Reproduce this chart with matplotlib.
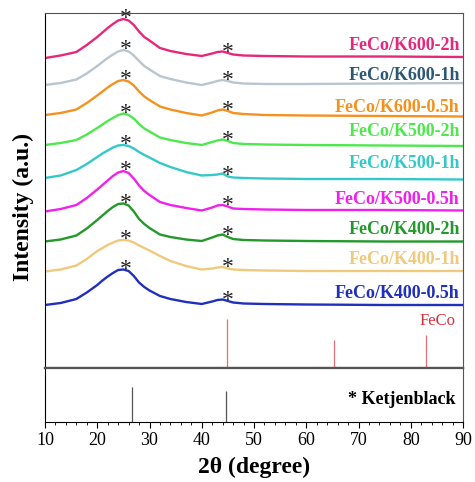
#!/usr/bin/env python
# -*- coding: utf-8 -*-

import matplotlib
matplotlib.use("Agg")
import matplotlib.pyplot as plt
import numpy as np

plt.rcParams.update({
    'font.family': 'serif',
    'font.serif': ['Liberation Serif', 'DejaVu Serif'],
})

# 2theta sampling of the patterns (degree)
theta = [10, 13, 16, 18, 20, 21, 22, 23, 24, 25, 26, 27, 28, 29, 30, 32, 34,
         37, 40, 42, 43, 44, 45, 46, 48, 52, 60, 75, 90]

# stacked intensities (a.u.), already offset
k600_2h = [322, 324.5, 328, 335, 343, 347.5, 352, 356, 359.5, 361, 359.5, 355,
           348.5, 343, 339.5, 332, 329, 326, 324, 326.5, 328, 328.5, 327, 325.5,
           324.5, 324, 323.5, 323.5, 323]
k600_1h = [295, 297, 300.5, 306.5, 314, 318, 322, 325.5, 328.5, 330, 328.5, 324.5,
           319, 314, 310.5, 304, 301, 297.5, 295, 297.5, 299, 300, 299, 297.5,
           296.5, 296, 296, 296.5, 297]
k600_05h = [265, 267, 270.5, 277, 284.5, 288.5, 292.5, 296, 299, 300, 298.5, 294.5,
            288.5, 283.5, 280, 273.5, 270.5, 267, 264.5, 267.5, 269.5, 270.5, 269,
            267, 266, 265, 264.5, 264, 263.5]
k500_2h = [235, 237, 240, 245.5, 252, 255.5, 259, 262, 265, 266.5, 265, 261.5,
           256, 251.5, 248.5, 242.5, 240, 237, 235, 238, 239.5, 240.5, 239, 237,
           236, 235.5, 235, 234.5, 234]
k500_1h = [202, 204.5, 210, 216, 223, 226.5, 229.5, 232.5, 234.5, 235, 234, 231.5,
           228, 225, 222.5, 217, 213, 208, 204.5, 205, 205.5, 206.5, 203.5, 202.5,
           202, 201.5, 201, 201, 200.5]
k500_05h = [168.5, 171, 175, 182, 190.5, 195, 199.5, 204, 207.5, 209, 207, 201.5,
            194.5, 189, 185, 178, 175, 172, 169.5, 172.5, 174.5, 175, 173.5, 171.5,
            171, 170.5, 170, 170, 169.5]
k400_2h = [138.5, 140.5, 144.5, 151.5, 160, 164.5, 169, 173, 176, 176.5, 174.5, 168.5,
           161, 156, 152, 145.5, 143, 140.5, 139, 142.5, 144.5, 145.5, 143, 141,
           140, 139.5, 139, 138.5, 138.5]
k400_1h = [108.5, 110.5, 114.5, 121, 129, 132, 135, 137.5, 139.5, 140, 139.5, 137.5,
           134.5, 132, 129.5, 124, 119, 114, 110.5, 111.5, 112.5, 113, 111.5, 110.5,
           110, 109.5, 109, 109, 109]
k400_05h = [75, 77, 81, 87.5, 95, 99.5, 103.5, 107, 110, 110.5, 109, 104,
            97.5, 93, 89.5, 84, 81, 78, 76, 78.5, 80, 80.5, 79, 77.5,
            76.5, 76, 75.5, 75, 75]

names = ["FeCo/K600-2h", "FeCo/K600-1h", "FeCo/K600-0.5h",
         "FeCo/K500-2h", "FeCo/K500-1h", "FeCo/K500-0.5h",
         "FeCo/K400-2h", "FeCo/K400-1h", "FeCo/K400-0.5h"]
series = [k600_2h, k600_1h, k600_05h, k500_2h, k500_1h, k500_05h,
          k400_2h, k400_1h, k400_05h]
label_y = [335, 305, 273, 249, 217, 181, 150, 121, 86]

# carbon peak positions marked with *
star_pos = [25.5, 45.0]

# reference patterns
feco_pos = [44.9, 65.3, 82.9]
feco_int = [49, 28, 33]
kb_pos = [26.6, 44.7]
kb_int = [0.65, 0.57]

line_colors = ['#e6287c', '#b8c6cf', '#f5921f', '#4ee84e', '#33c9c9',
               '#f020ee', '#23982b', '#efc97c', '#2030bc']
text_colors = ['#e6287c', '#2c5874', '#f5921f', '#4ee84e', '#33c9c9',
               '#f020ee', '#23982b', '#efc97c', '#2030bc']

base = 12

fig = plt.figure(figsize=(4.75, 4.82), dpi=100)
ax = fig.add_axes([45/475., 1-368/482., 418/475., 355/482.])
ax2 = fig.add_axes([45/475., 1-422/482., 418/475., 54/482.], sharex=ax)

for y, c, tc, name, ly in zip(series, line_colors, text_colors, names, label_y):
    ax.plot(theta, y, color=c, lw=1.7)
    ax.text(89.4, ly, name, color=tc, ha='right', va='center',
            fontsize=13, fontweight='bold')
    for p in star_pos:
        ax.text(p, np.interp(p, theta, y) + 1, "*", ha='center', va='center',
                fontsize=17, color='#222222')

ax.vlines(feco_pos, base, [base + h for h in feco_int], color='#e0707a', lw=0.9)
ax.text(88.6, 59, "FeCo", color='#d8303c', ha='right', va='center', fontsize=12)

ax2.vlines(kb_pos, 0, kb_int, color='#555555', lw=0.9)
ax2.text(88.6, 0.42, "* Ketjenblack", color='black', ha='right', va='center',
         fontsize=13, fontweight='bold')

ax.set_xlim(10, 90)
ax.set_ylim(base, 367)
ax2.set_ylim(0, 1)
ax.set_yticks([])
ax2.set_yticks([])
ax.tick_params(axis='x', bottom=False, labelbottom=False)

for s in ['top', 'right']:
    ax.spines[s].set_color('#555555')
    ax2.spines[s].set_color('#555555')
ax.spines['bottom'].set_color('#555555')
ax.spines['bottom'].set_linewidth(1.6)
ax2.spines['top'].set_color('#555555')
ax2.spines['top'].set_linewidth(1.6)

ax2.set_xticks(np.arange(10, 91, 10))
ax2.set_xticks(np.arange(10, 91, 2), minor=True)
ax2.tick_params(axis='x', which='major', direction='out', length=4,
                labelsize=13, pad=3)
ax2.tick_params(axis='x', which='minor', direction='out', length=2.5)

ax2.set_xlabel(u"2θ (degree)", fontsize=17, fontweight='bold', labelpad=6)
fig.text(0.05, 0.57, "Intensity (a.u.)", rotation=90, ha='center', va='center',
         fontsize=17, fontweight='bold')

fig.savefig("out.png", dpi=100)
